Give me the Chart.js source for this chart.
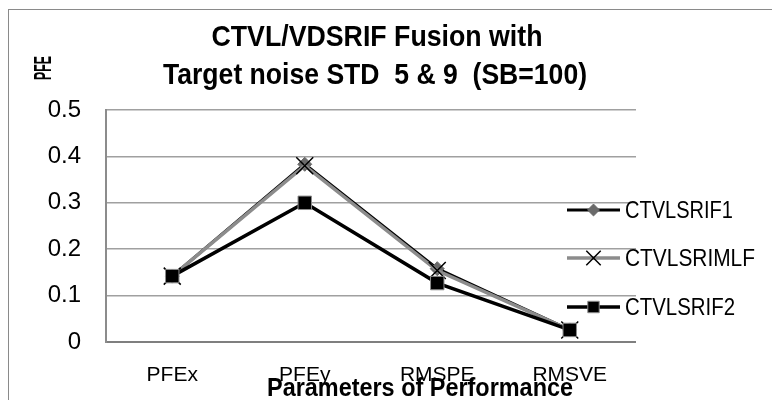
<!DOCTYPE html>
<html>
<head>
<meta charset="utf-8">
<script src="https://cdn.jsdelivr.net/npm/chart.js@4.4.1/dist/chart.umd.min.js"></script>
<style>
  html, body { margin: 0; padding: 0; background: #fff; }
  #wrap { position: relative; width: 772px; height: 400px; overflow: hidden; }
  #frame { position: absolute; left: 8px; top: 9px; width: 800px; height: 420px;
           border-left: 1px solid #8a8a8a; border-top: 1px solid #8a8a8a; }
  canvas { position: absolute; left: 0; top: 0; }
</style>
</head>
<body>
<div id="wrap">
  <div id="frame"></div>
  <canvas id="grafico" width="772" height="400"></canvas>
</div>
<script>
const categories = ['PFEx', 'PFEy', 'RMSPE', 'RMSVE'];
const seriesNames = ['CTVLSRIF1', 'CTVLSRIMLF', 'CTVLSRIF2'];
const ctvlsrif1  = [0.142, 0.383, 0.158, 0.026];
const ctvlsrimlf = [0.142, 0.380, 0.154, 0.026];
const ctvlsrif2  = [0.142, 0.300, 0.127, 0.026];
const yTicks = [0, 0.1, 0.2, 0.3, 0.4, 0.5];
const titleLines = ['CTVL/VDSRIF Fusion with', 'Target noise STD  5 & 9  (SB=100)'];
const yTitle = 'PFE';
const xTitle = 'Parameters of Performance';

const FONT = "'Liberation Sans', Arial, sans-serif";

// texto com escala horizontal (a fonte do original é mais estreita)
function drawText(ctx, text, x, y, font, width, opts = {}) {
  ctx.save();
  ctx.font = font;
  ctx.fillStyle = '#000';
  ctx.translate(x, y);
  if (opts.angle) ctx.rotate(opts.angle);
  const w = ctx.measureText(text).width;
  ctx.scale(width / w, 1);
  ctx.textAlign = opts.align || 'center';
  ctx.textBaseline = opts.baseline || 'alphabetic';
  ctx.fillText(text, 0, 0);
  ctx.restore();
}

const textos = {
  id: 'textos',
  afterDraw(chart) {
    const ctx = chart.ctx;
    // título
    drawText(ctx, titleLines[0], 377, 46, `bold 30px ${FONT}`, 331);
    drawText(ctx, titleLines[1], 375, 84, `bold 30px ${FONT}`, 424);
    // títulos dos eixos
    drawText(ctx, yTitle, 45, 68, `bold 23px ${FONT}`, 24, { angle: -Math.PI / 2, baseline: 'middle' });
    drawText(ctx, xTitle, 420, 396, `bold 26px ${FONT}`, 306);

    // legenda
    const rows = [210, 258, 307];
    const larguras = [108, 130, 110];
    chart.data.datasets.forEach((ds, i) => {
      const y = rows[i];
      ctx.save();
      ctx.strokeStyle = ds.borderColor;
      ctx.lineWidth = ds.borderWidth;
      ctx.beginPath();
      ctx.moveTo(567, y);
      ctx.lineTo(620, y);
      ctx.stroke();
      ctx.fillStyle = ds.pointBackgroundColor;
      ctx.strokeStyle = ds.pointBorderColor;
      ctx.lineWidth = ds.pointBorderWidth;
      Chart.helpers.drawPoint(ctx, {
        pointStyle: ds.pointStyle,
        radius: ds.pointRadius * 0.85,
        rotation: 0,
        borderWidth: ds.pointBorderWidth
      }, 593.5, y);
      ctx.restore();
      drawText(ctx, ds.label, 625, y + 1, `24px ${FONT}`, larguras[i], { align: 'left', baseline: 'middle' });
    });
  }
};

new Chart(document.getElementById('grafico'), {
  type: 'line',
  data: {
    labels: categories,
    datasets: [
      {
        label: seriesNames[0],
        data: ctvlsrif1,
        borderColor: '#000',
        borderWidth: 3,
        pointStyle: 'rectRot',
        pointRadius: 7,
        pointBackgroundColor: '#6a6a6a',
        pointBorderColor: '#6a6a6a',
        pointBorderWidth: 1,
        order: 3
      },
      {
        label: seriesNames[1],
        data: ctvlsrimlf,
        borderColor: '#8c8c8c',
        borderWidth: 3.5,
        pointStyle: 'crossRot',
        pointRadius: 12,
        pointBackgroundColor: '#000',
        pointBorderColor: '#000',
        pointBorderWidth: 1.5,
        order: 2
      },
      {
        label: seriesNames[2],
        data: ctvlsrif2,
        borderColor: '#000',
        borderWidth: 3.5,
        pointStyle: 'rect',
        pointRadius: 9.5,
        pointBackgroundColor: '#000',
        pointBorderColor: '#8c8c8c',
        pointBorderWidth: 1,
        order: 1
      }
    ]
  },
  options: {
    responsive: false,
    animation: false,
    layout: { padding: { top: 110, right: 136, left: 0, bottom: 0 } },
    plugins: {
      legend: { display: false },
      title: { display: false },
      tooltip: { enabled: false }
    },
    elements: { line: { tension: 0 } },
    scales: {
      x: {
        offset: true,
        grid: { display: false, drawTicks: false },
        border: { display: false },
        ticks: {
          color: '#000',
          font: { family: FONT, size: 21 },
          padding: 21,
          maxRotation: 0,
          autoSkip: false
        },
        afterFit: s => { s.height = 58; }
      },
      y: {
        min: 0,
        max: 0.5,
        afterBuildTicks: s => { s.ticks = yTicks.map(v => ({ value: v })); },
        grid: {
          drawTicks: false,
          color: c => c.tick && c.tick.value === 0 ? '#7f7f7f' : '#a0a0a0',
          lineWidth: c => c.tick && c.tick.value === 0 ? 2 : 1.5
        },
        border: { display: true, color: '#8c8c8c', width: 2 },
        ticks: {
          color: '#000',
          font: { family: FONT, size: 24 },
          padding: 25,
          callback: v => v === 0 ? '0' : v.toFixed(1)
        },
        afterFit: s => { s.width = 106; }
      }
    }
  },
  plugins: [textos]
});
</script>
</body>
</html>
